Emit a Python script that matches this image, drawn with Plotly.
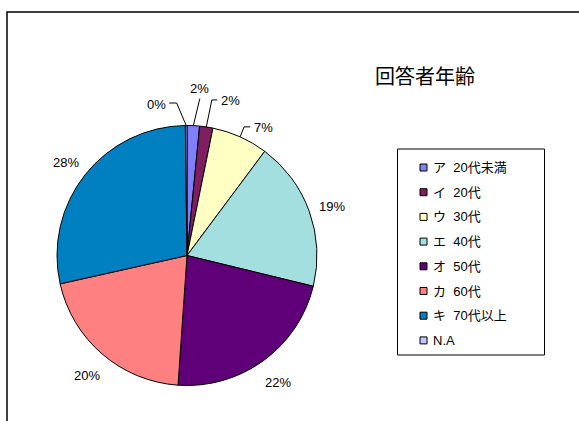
import math
import plotly.graph_objects as go

# ---------------- data ----------------
title_text = "回答者年齢"
categories = ["ア\u00a0\u00a020代未満", "イ\u00a0\u00a020代", "ウ\u00a0\u00a030代", "エ\u00a0\u00a040代",
              "オ\u00a0\u00a050代", "カ\u00a0\u00a060代", "キ\u00a0\u00a070代以上", "N.A"]
values = [1.55, 1.65, 7.0, 18.6, 22.3, 20.4, 28.3, 0.2]
colors = ["#8080FF", "#7F1F60", "#FFFFC4", "#A3DFDF",
          "#600078", "#FF8080", "#0080C0", "#C4C4FF"]

# ---------------- layout constants ----------------
W, H = 579, 421
CX, CY, R = 187, 255.5, 130
FONT = "Liberation Sans, Arial, Noto Sans CJK JP, sans-serif"


def px(x):
    return x / W


def py(y):
    return 1 - y / H


# leader-line styles for crowded slices: (elbow dx, elbow dy, horizontal run, text side)
leader_style = {
    0: (6.5, -27, 0, "top"),
    1: (5.5, -27, 5.5, "right"),
    2: (4, -10, 6, "right"),
    7: (-9.5, -22.5, -7.5, "left"),
}

total = sum(values)
shapes = []
annotations = []

# percentage labels computed from values
cum = 0.0
for i, v in enumerate(values):
    mid = (cum + v / 2) / total * 2 * math.pi
    cum += v
    pct = f"{round(v / total * 100)}%"
    s, c = math.sin(mid), math.cos(mid)
    if i in leader_style:
        edx, edy, run, side = leader_style[i]
        ex, ey = CX + R * s, CY - R * c
        bx, by = ex + edx, ey + edy
        fx, fy = bx + run, by
        shapes.append(dict(type="path", xref="paper", yref="paper",
                           path=f"M {px(ex)} {py(ey)} L {px(bx)} {py(by)} L {px(fx)} {py(fy)}",
                           line=dict(color="black", width=1)))
        if side == "top":
            annotations.append(dict(x=px(fx), y=py(fy - 1), xref="paper", yref="paper",
                                    text=pct, showarrow=False, xanchor="center", yanchor="bottom",
                                    font=dict(family=FONT, size=13, color="black")))
        elif side == "right":
            annotations.append(dict(x=px(fx + 1.5), y=py(fy + 1), xref="paper", yref="paper",
                                    text=pct, showarrow=False, xanchor="left", yanchor="middle",
                                    font=dict(family=FONT, size=13, color="black")))
        else:
            annotations.append(dict(x=px(fx - 1), y=py(fy + 1), xref="paper", yref="paper",
                                    text=pct, showarrow=False, xanchor="right", yanchor="middle",
                                    font=dict(family=FONT, size=13, color="black")))
    else:
        d = R * 1.185
        lx, ly = CX + d * s, CY - d * c + 3
        annotations.append(dict(x=px(lx), y=py(ly), xref="paper", yref="paper",
                                text=pct, showarrow=False, xanchor="center", yanchor="middle",
                                font=dict(family=FONT, size=13, color="black")))

# title
annotations.append(dict(x=px(425), y=py(75), xref="paper", yref="paper", text=title_text,
                        showarrow=False, xanchor="center", yanchor="middle",
                        font=dict(family="Noto Sans CJK JP, sans-serif", size=20, color="black")))

# manual legend
shapes.append(dict(type="rect", xref="paper", yref="paper",
                   x0=px(397.5), x1=px(544.5), y0=py(355), y1=py(149),
                   line=dict(color="black", width=1), fillcolor="white", layer="below"))
for i, (cat, col) in enumerate(zip(categories, colors)):
    yc = 167.5 + i * 24.7
    shapes.append(dict(type="rect", xref="paper", yref="paper",
                       x0=px(420), x1=px(427), y0=py(yc + 3.5), y1=py(yc - 3.5),
                       line=dict(color="black", width=1), fillcolor=col))
    annotations.append(dict(x=px(431), y=py(yc), xref="paper", yref="paper", text=cat,
                            showarrow=False, xanchor="left", yanchor="middle",
                            font=dict(family="Liberation Sans, Arial, Noto Sans CJK JP", size=13,
                                      color="black")))

# outer chart frame (extends beyond the picture on right and bottom)
shapes.append(dict(type="rect", xref="paper", yref="paper",
                   x0=px(7), x1=px(W + 20), y0=py(H + 20), y1=py(12),
                   line=dict(color="black", width=1.5), fillcolor="rgba(0,0,0,0)"))

fig = go.Figure(go.Pie(
    labels=categories,
    values=values,
    sort=False,
    direction="clockwise",
    rotation=0,
    marker=dict(colors=colors, line=dict(color="black", width=1)),
    textinfo="none",
    hoverinfo="label+percent",
    showlegend=False,
    domain=dict(x=[px(CX - R), px(CX + R)], y=[py(CY + R), py(CY - R)]),
))

fig.update_layout(
    width=W, height=H,
    margin=dict(l=0, r=0, t=0, b=0),
    paper_bgcolor="white",
    plot_bgcolor="white",
    showlegend=False,
    shapes=shapes,
    annotations=annotations,
)

fig.write_html("out.html", config={"displayModeBar": False},
               post_script="document.body.style.margin='0';")
